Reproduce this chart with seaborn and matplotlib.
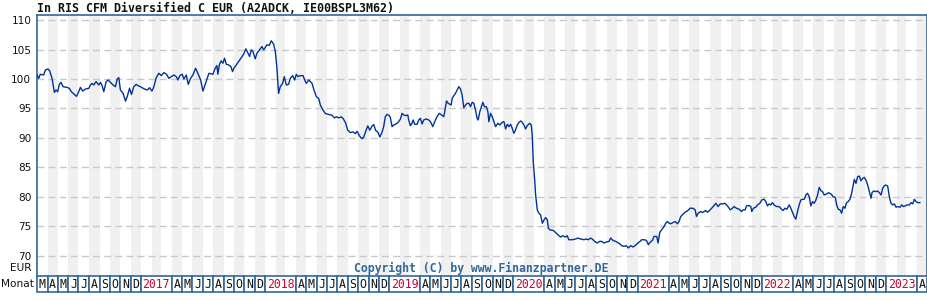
import numpy as np
import pandas as pd
import matplotlib
matplotlib.use("Agg")
import matplotlib.pyplot as plt
import matplotlib.dates as mdates
from matplotlib.patches import Rectangle
import seaborn as sns

# ---------------- data ----------------
title = "In RIS CFM Diversified C EUR (A2ADCK, IE00BSPL3M62)"
copyright_text = "Copyright (C) by www.Finanzpartner.DE"
unit_label = "EUR"
month_row_label = "Monat"
start_date = "2016-03-01"
end_date = "2023-05-01"
y_ticks = [70, 75, 80, 85, 90, 95, 100, 105, 110]
month_letters = ["J", "F", "M", "A", "M", "J", "J", "A", "S", "O", "N", "D"]

# time in months since 2016-03-01, and fund price (EUR)
months_a = [0.00, 0.16, 0.32, 0.65, 0.81, 1.06, 1.23, 1.45, 1.68, 1.84, 2.00, 2.16, 2.32, 2.52,
            2.90, 3.13, 3.32, 3.61, 3.81, 4.03, 4.19, 4.42, 4.68, 5.00, 5.16, 5.32, 5.48, 5.71,
            5.97, 6.13, 6.29, 6.45, 6.68, 6.87, 7.10, 7.35, 7.58, 7.74, 7.90, 8.06, 8.32, 8.55,
            8.71, 8.94, 9.13, 9.35, 9.58, 9.77, 10.00, 10.16, 10.39, 10.65, 10.87, 11.10, 11.29,
            11.52, 11.77, 12.00, 12.26, 12.52, 12.74, 12.97, 13.23, 13.48, 13.61, 13.81, 14.03,
            14.19, 14.42, 14.61, 14.84, 15.06, 15.32, 15.58, 15.81, 16.03, 16.23, 16.45, 16.61]
prices_a = [100.68, 100.11, 100.80, 100.68, 101.53, 101.70, 101.36, 100.11, 97.73, 98.13, 97.84,
            99.09, 99.43, 98.69, 98.58, 98.41, 97.84, 97.39, 97.05, 97.84, 98.58, 97.95, 98.30,
            98.41, 98.98, 99.26, 98.98, 99.55, 98.98, 99.43, 98.86, 97.84, 99.55, 99.83, 99.43,
            98.98, 98.69, 99.94, 100.23, 98.13, 97.56, 96.25, 96.99, 98.41, 97.39, 98.69, 99.09,
            98.86, 98.69, 98.52, 98.30, 98.13, 98.52, 97.95, 98.69, 100.23, 100.97, 100.57,
            101.08, 100.80, 100.11, 100.40, 100.68, 100.34, 99.83, 100.57, 100.80, 100.00,
            100.68, 99.09, 100.11, 100.68, 101.82, 100.80, 99.83, 97.95, 98.98, 100.11, 100.97]

months_b = [16.73, 16.99, 17.21, 17.38, 17.47, 17.63, 17.79, 17.96, 18.12, 18.28, 18.50, 18.73,
            18.89, 19.05, 19.21, 19.47, 19.70, 19.96, 20.18, 20.38, 20.54, 20.70, 20.86, 21.08,
            21.25, 21.50, 21.73, 21.89, 22.05, 22.21, 22.44, 22.63, 22.86, 23.02, 23.18, 23.34,
            23.50, 23.73, 23.89, 24.08, 24.31, 24.47, 24.70, 24.89, 25.05, 25.21, 25.44, 25.70,
            25.86, 26.02, 26.25, 26.41, 26.57, 26.73, 26.99, 27.21, 27.38, 27.63, 27.86, 28.18,
            28.50, 28.73, 28.92, 29.15, 29.41, 29.57, 29.80, 30.02, 30.28, 30.54, 30.76, 30.92,
            31.18, 31.41, 31.57, 31.79, 31.96, 32.15, 32.38, 32.54, 32.70, 32.92, 33.12]
prices_b = [100.80, 100.80, 101.82, 102.27, 100.80, 102.50, 103.07, 102.67, 103.52, 102.50,
            102.39, 102.10, 101.25, 101.93, 102.27, 102.95, 103.52, 104.20, 105.11, 104.38,
            103.81, 104.94, 104.66, 103.41, 104.38, 104.94, 105.51, 104.94, 105.34, 105.80,
            105.68, 106.48, 105.91, 104.66, 101.82, 97.56, 98.69, 99.26, 100.40, 98.98, 99.09,
            100.11, 100.57, 99.83, 100.80, 100.40, 100.57, 100.57, 99.83, 99.26, 99.83, 99.55,
            99.26, 98.30, 96.99, 96.70, 95.57, 94.72, 94.15, 93.98, 93.86, 93.41, 93.58, 93.41,
            93.58, 93.30, 92.61, 91.31, 90.91, 91.02, 90.74, 91.14, 90.28, 89.89, 90.17, 91.31,
            92.05, 91.31, 92.05, 92.27, 91.31, 91.02, 90.17]

months_c = [33.17, 33.33, 33.49, 33.65, 33.82, 34.04, 34.14, 34.30, 34.46, 34.62, 34.78, 34.94,
            35.11, 35.27, 35.43, 35.59, 35.82, 35.91, 36.07, 36.23, 36.33, 36.49, 36.72, 36.88,
            37.04, 37.20, 37.36, 37.59, 37.85, 38.01, 38.23, 38.49, 38.65, 38.88, 39.07, 39.30,
            39.40, 39.56, 39.72, 39.88, 40.01, 40.11, 40.27, 40.43, 40.59, 40.75, 40.91, 41.07,
            41.23, 41.40, 41.56, 41.72, 41.88, 42.04, 42.20, 42.36, 42.52, 42.62, 42.78, 42.94,
            43.07, 43.23, 43.40, 43.56, 43.65, 43.82, 43.98, 44.14, 44.30, 44.52, 44.72, 44.94,
            45.11, 45.27, 45.43, 45.59, 45.75, 45.91, 46.07, 46.23, 46.40, 46.56, 46.72, 46.88,
            47.04, 47.20, 47.36, 47.59, 47.75, 47.85, 47.94, 48.07, 48.17, 48.33, 48.49, 48.65,
            48.82, 48.98, 49.14, 49.30, 49.40, 49.56]
prices_c = [90.51, 90.96, 91.92, 93.62, 94.01, 93.79, 93.45, 91.92, 92.20, 92.32, 92.49, 92.77,
            93.22, 94.18, 93.90, 93.79, 93.90, 93.05, 92.09, 92.49, 93.05, 92.32, 92.32, 93.05,
            93.33, 92.37, 93.05, 93.22, 93.05, 92.77, 91.92, 93.05, 93.62, 94.18, 93.90, 93.62,
            94.58, 96.27, 95.88, 95.71, 95.59, 96.72, 97.18, 97.57, 98.14, 98.70, 98.31, 97.29,
            95.14, 95.59, 95.88, 95.88, 95.31, 96.05, 95.88, 94.75, 93.33, 93.05, 94.46, 95.31,
            96.05, 95.31, 95.31, 94.46, 92.77, 94.18, 93.62, 92.77, 91.92, 92.49, 92.20, 92.66,
            92.77, 91.53, 92.32, 91.92, 92.32, 91.64, 90.79, 91.36, 92.20, 92.66, 92.88, 92.66,
            92.20, 91.53, 92.09, 92.49, 92.20, 90.23, 85.99, 83.16, 80.34, 77.80, 77.23, 76.95,
            75.54, 76.10, 76.50, 76.10, 74.69, 74.41]

months_d = [49.61, 49.87, 50.09, 50.32, 50.58, 50.80, 51.06, 51.22, 51.38, 51.71, 52.03, 52.26,
            52.51, 52.84, 53.06, 53.26, 53.48, 53.64, 53.87, 54.13, 54.35, 54.55, 54.77, 55.00,
            55.26, 55.42, 55.64, 55.90, 56.06, 56.29, 56.48, 56.71, 56.93, 57.13, 57.35, 57.58,
            57.77, 57.98, 58.26, 58.42, 58.64, 58.87, 59.06, 59.22, 59.45, 59.61, 59.87, 60.00,
            60.16, 60.35, 60.58, 60.74, 60.90, 61.06, 61.22, 61.45, 61.64, 61.87, 62.03, 62.19,
            62.35, 62.61, 62.84, 63.09, 63.38, 63.58, 63.71, 63.87, 64.13, 64.29, 64.45, 64.61,
            64.77, 64.93, 65.09, 65.32, 65.58, 65.80, 66.00, 66.22, 66.45, 66.71, 66.97]
prices_d = [74.44, 74.33, 73.99, 73.60, 73.20, 73.43, 73.20, 73.43, 72.75, 72.75, 72.87, 73.03,
            72.87, 72.75, 72.87, 72.75, 73.03, 72.87, 72.47, 72.19, 72.47, 72.47, 72.19, 72.36,
            72.47, 73.03, 72.64, 72.47, 72.30, 72.08, 71.74, 71.63, 71.74, 71.35, 71.74, 71.52,
            71.74, 72.08, 72.47, 72.75, 72.75, 72.64, 71.91, 72.30, 72.64, 73.31, 73.31, 72.19,
            73.99, 74.44, 75.00, 75.56, 75.84, 75.56, 75.45, 75.67, 75.84, 75.45, 75.84, 76.69,
            76.97, 77.42, 77.64, 78.09, 78.09, 77.81, 76.69, 77.25, 77.53, 77.36, 77.53, 77.70,
            77.42, 77.64, 77.92, 78.37, 78.93, 78.37, 78.82, 78.82, 78.93, 78.48, 77.81]

months_e = [67.02, 67.18, 67.34, 67.57, 67.83, 68.05, 68.21, 68.41, 68.54, 68.79, 68.96, 69.05,
            69.21, 69.44, 69.60, 69.83, 70.02, 70.25, 70.41, 70.57, 70.73, 70.89, 71.05, 71.21,
            71.44, 71.70, 71.92, 72.08, 72.25, 72.44, 72.67, 72.83, 72.99, 73.15, 73.31, 73.47,
            73.63, 73.79, 73.96, 74.12, 74.28, 74.44, 74.60, 74.76, 74.92, 75.08, 75.25, 75.41,
            75.57, 75.73, 75.89, 76.05, 76.28, 76.47, 76.70, 76.92, 77.12, 77.25, 77.41, 77.57,
            77.73, 77.89, 78.05, 78.21, 78.37, 78.54, 78.70, 78.83, 78.96, 79.12, 79.28, 79.44,
            79.60, 79.76, 79.92, 80.08, 80.25, 80.41, 80.57, 80.67, 80.83, 81.05, 81.21, 81.37,
            81.54, 81.70, 81.86, 82.02, 82.18, 82.34, 82.50, 82.66, 82.83, 82.99, 83.15, 83.37,
            83.54, 83.70, 83.86, 84.05, 84.28, 84.44, 84.60, 84.76, 84.92, 85.08, 85.31]
prices_e = [77.92, 78.09, 78.37, 78.09, 77.92, 77.53, 77.81, 77.81, 78.48, 78.54, 78.37, 77.53,
            78.09, 78.26, 78.65, 78.93, 79.49, 79.61, 79.21, 78.48, 78.82, 78.65, 79.04, 78.65,
            78.37, 78.37, 77.92, 77.70, 78.09, 77.92, 78.65, 78.09, 77.36, 76.69, 76.24, 77.53,
            78.65, 79.49, 79.61, 79.61, 80.34, 80.62, 80.06, 78.48, 79.21, 78.93, 79.49, 80.34,
            81.63, 81.07, 80.90, 80.34, 80.51, 80.73, 80.51, 80.06, 79.94, 78.65, 77.92, 77.81,
            77.25, 78.37, 78.09, 79.04, 79.21, 79.61, 80.62, 81.85, 82.98, 82.30, 83.43, 83.54,
            82.75, 83.15, 83.31, 82.87, 82.02, 80.90, 79.78, 80.73, 81.01, 80.90, 81.01, 80.73,
            80.34, 81.46, 81.91, 82.02, 81.85, 80.06, 78.93, 78.65, 78.82, 78.26, 78.37, 78.26,
            78.65, 78.37, 78.48, 78.65, 78.65, 79.04, 78.82, 79.61, 79.21, 79.04, 79.04]

# ---------------- build frame ----------------
months_all = months_a + months_b[1:] + months_c[1:] + months_d[1:] + months_e[1:]
prices_all = prices_a + prices_b[1:] + prices_c[1:] + prices_d[1:] + prices_e[1:]
order = np.argsort(months_all, kind="stable")
months_all = np.asarray(months_all)[order]
prices_all = np.asarray(prices_all)[order]
t0 = pd.Timestamp(start_date)
dates = t0 + pd.to_timedelta(months_all * 30.4375, unit="D")
df = pd.DataFrame({"Datum": dates, "Kurs": prices_all})

# ---------------- style ----------------
sns.set_style("white")
plt.rcParams["font.family"] = ["DejaVu Sans"]

BLUE_BORDER = "#336699"
LINE_BLUE = "#003399"
STRIPE = "#f0f0f0"
GRID = "#c8c8c8"
YEAR_RED = "#cc0033"

W, H = 928, 300
fig = plt.figure(figsize=(W / 100, H / 100), dpi=100)
fig.patch.set_facecolor("white")

ax_left, ax_right, ax_top, ax_bottom = 37, 927, 15, 276
ax = fig.add_axes([ax_left / W, 1 - ax_bottom / H, (ax_right - ax_left) / W, (ax_bottom - ax_top) / H])
ax.set_facecolor("white")

x0 = pd.Timestamp(start_date)
x1 = pd.Timestamp(end_date)
month_starts = pd.date_range(x0, x1, freq="MS")

# alternating month stripes
for i in range(len(month_starts) - 1):
    if i % 2 == 1:
        ax.axvspan(month_starts[i], month_starts[i + 1], facecolor=STRIPE, lw=0, zorder=0.2)

sns.lineplot(data=df, x="Datum", y="Kurs", ax=ax, color=LINE_BLUE, linewidth=1.0, zorder=3)

ax.set_xlim(x0, x1)
ax.set_ylim(66.6, 110.85)
ax.set_yticks(y_ticks)
ax.set_yticklabels([str(v) for v in y_ticks])
ax.set_xticks([])
ax.set_xlabel("")
ax.set_ylabel("")
ax.yaxis.grid(True, color=GRID, linestyle=(0, (5, 3)), linewidth=1.0)
ax.xaxis.grid(False)
ax.set_axisbelow(True)
ax.tick_params(axis="y", length=0, pad=4, labelsize=7.6, labelcolor="#111111")
for side in ["left", "top", "right"]:
    ax.spines[side].set_visible(True)
    ax.spines[side].set_color(BLUE_BORDER)
    ax.spines[side].set_linewidth(1.2)
ax.spines["bottom"].set_visible(False)

ax.text(0.499, (ax_bottom - 268) / (ax_bottom - ax_top), copyright_text, transform=ax.transAxes,
        ha="center", va="center", fontsize=8.3, fontweight="bold", color=BLUE_BORDER,
        family="DejaVu Sans Mono", zorder=4)

# title and side labels
fig.text(ax_left / W, 1 - 12.5 / H, title, ha="left", va="baseline", fontsize=8.35,
         fontweight="bold", family="DejaVu Sans Mono", color="#111111")
fig.text(31.5 / W, 1 - 268 / H, unit_label, ha="right", va="center", fontsize=7.6, color="#111111")
fig.text(1 / W, 1 - 284 / H, month_row_label, ha="left", va="center", fontsize=7.6, color="#111111")

# month label row
row_top, row_bottom = 276, 292
axm = fig.add_axes([ax_left / W, 1 - row_bottom / H, (ax_right - ax_left) / W, (row_bottom - row_top) / H])
axm.set_xlim(mdates.date2num(x0), mdates.date2num(x1))
axm.set_ylim(0, 1)
axm.axis("off")

cells = []
i = 0
while i < len(month_starts) - 1:
    ms = month_starts[i]
    if ms.month == 1 and i + 3 < len(month_starts):
        cells.append((month_starts[i], month_starts[i + 3], str(ms.year), YEAR_RED))
        i += 3
    else:
        cells.append((month_starts[i], month_starts[i + 1], month_letters[ms.month - 1], "#111111"))
        i += 1

for s, e, lab, col in cells:
    a = mdates.date2num(s)
    b = mdates.date2num(e)
    axm.add_patch(Rectangle((a, 0), b - a, 1, facecolor="white", edgecolor=BLUE_BORDER,
                            linewidth=1.2, clip_on=False))
    axm.text((a + b) / 2, 0.45, lab, ha="center", va="center", fontsize=8.3, color=col,
             family="DejaVu Sans Mono")

fig.savefig("out.png", dpi=100, facecolor="white")
